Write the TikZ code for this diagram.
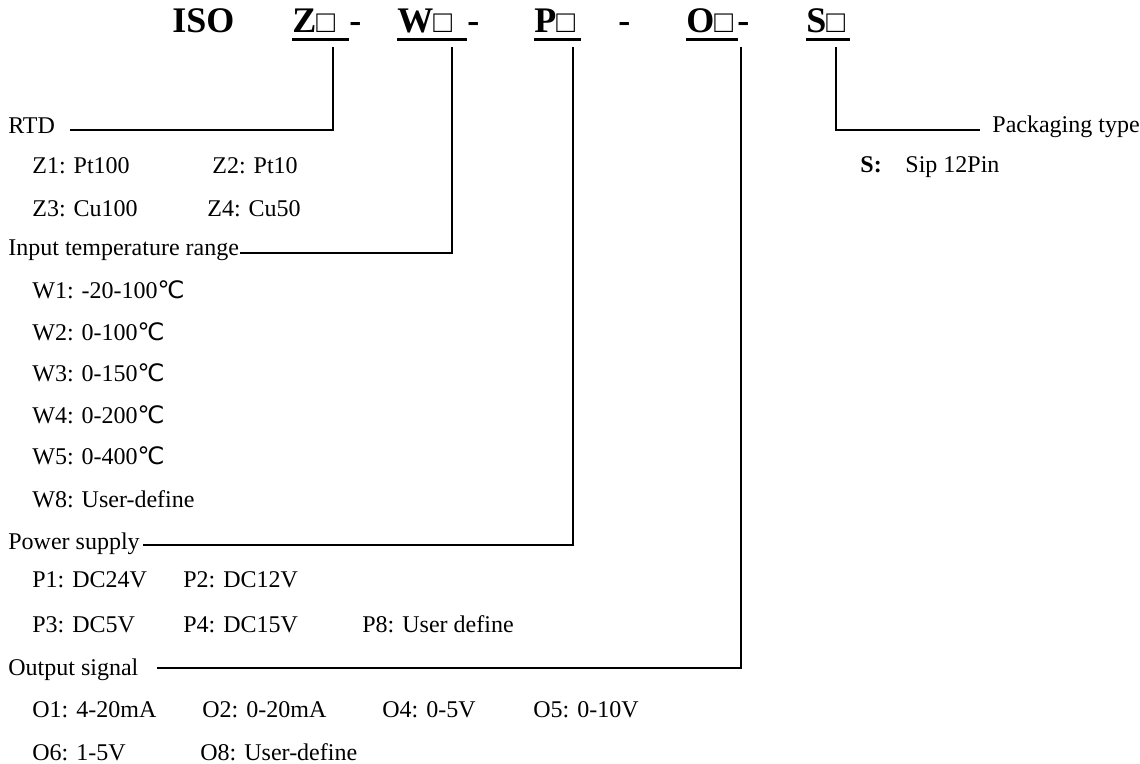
\documentclass[tikz,border=0pt]{standalone}
\usepackage{fontspec}
\setmainfont{Liberation Serif}
\newfontfamily\symfont{DejaVu Sans}
\usetikzlibrary{positioning,calc}
\newcommand{\sq}{{\mdseries\fontsize{15.5}{15.5}\selectfont □}}
\newcommand{\degc}{{\symfont ℃}}

\begin{document}
\begin{tikzpicture}[
  x=0.5pt, y=-0.5pt,
  hdr/.style={font=\bfseries\fontsize{18}{18}\selectfont, inner sep=0pt, anchor=base west},
  codebox/.style={hdr, text width=#1, align=left},
  head/.style={font=\fontsize{12}{14}\selectfont, inner sep=0pt, anchor=base west},
  item/.style={head},
  lead/.style={line width=1pt},
  uline/.style={line width=1.6pt}
]
\useasboundingbox (0,0) rectangle (1140,764);

% code line
\node[hdr] (iso) at (172,33) {ISO};
\node[codebox=28pt] (zcode) at (292,33) {Z\sq};
\node[hdr] (dash1) at (349,33) {-};
\node[codebox=34.5pt] (wcode) at (397,33) {W\sq};
\node[hdr] (dash2) at (467,33) {-};
\node[codebox=23pt] (pcode) at (534,33) {P\sq};
\node[hdr] (dash3) at (618,33) {-};
\node[codebox=25.5pt] (ocode) at (686,33) {O\sq};
\node[hdr] (dash4) at (737,33) {-};
\node[codebox=21.5pt] (scode) at (806,33) {S\sq};

\draw[uline] ([yshift=-3.25pt]zcode.base west) -- ([yshift=-3.25pt]zcode.base east);
\draw[uline] ([yshift=-3.25pt]wcode.base west) -- ([yshift=-3.25pt]wcode.base east);
\draw[uline] ([yshift=-3.25pt]pcode.base west) -- ([yshift=-3.25pt]pcode.base east);
\draw[uline] ([yshift=-3.25pt]ocode.base west) -- ([yshift=-3.25pt]ocode.base east);
\draw[uline] ([yshift=-3.25pt]scode.base west) -- ([yshift=-3.25pt]scode.base east);

% RTD
\node[head] (rtd) at (8,134) {RTD};
\node[item] (z1) at (32,174) {Z1: Pt100};
\node[item] (z2) at (212,174) {Z2: Pt10};
\node[item] (z3) at (32,217) {Z3: Cu100};
\node[item] (z4) at (207,217) {Z4: Cu50};

% temperature range
\node[head] (temp) at (8,256) {Input temperature range};
\node[item] (w1) at (32,299) {W1: -20-100\degc};
\node[item] (w2) at (32,341) {W2: 0-100\degc};
\node[item] (w3) at (32,382) {W3: 0-150\degc};
\node[item] (w4) at (32,423) {W4: 0-200\degc};
\node[item] (w5) at (32,465) {W5: 0-400\degc};
\node[item] (w8) at (32,507) {W8: User-define};

% power supply
\node[head] (power) at (8,549) {Power supply};
\node[item] (p1) at (32,587) {P1: DC24V};
\node[item] (p2) at (183,587) {P2: DC12V};
\node[item] (p3) at (32,632) {P3: DC5V};
\node[item] (p4) at (183,632) {P4: DC15V};
\node[item] (p8) at (362,632) {P8: User define};

% output signal
\node[head] (output) at (8,675) {Output signal};
\node[item] (o1) at (32,717) {O1: 4-20mA};
\node[item] (o2) at (202,717) {O2: 0-20mA};
\node[item] (o4) at (382,717) {O4: 0-5V};
\node[item] (o5) at (533,717) {O5: 0-10V};
\node[item] (o6) at (32,760) {O6: 1-5V};
\node[item] (o8) at (200,760) {O8: User-define};

% packaging
\node[head] (pack) at (992,133) {Packaging type};
\node[item, font=\bfseries\fontsize{12}{14}\selectfont] (stag) at (860,173) {S:};
\node[item] (spin) at (905,173) {Sip 12Pin};

% leaders
\coordinate (ztop) at (333,47);
\coordinate (wtop) at (452,47);
\coordinate (ptop) at (573,47);
\coordinate (otop) at (741,47);
\coordinate (stop) at (836,47);
\coordinate (zbend) at (333,130);
\coordinate (wbend) at (452,253);
\coordinate (pbend) at (573,545);
\coordinate (obend) at (741,668);
\coordinate (sbend) at (836,130);

\draw[lead] (ztop) -- (zbend) -- ([xshift=7.5pt]rtd.east |- zbend);
\draw[lead] (wtop) -- (wbend) -- ([xshift=0.5pt]temp.east |- wbend);
\draw[lead] (ptop) -- (pbend) -- ([xshift=1.5pt]power.east |- pbend);
\draw[lead] (otop) -- (obend) -- ([xshift=9pt]output.east |- obend);
\draw[lead] (stop) -- (sbend) -- ([xshift=-6pt]pack.west |- sbend);
\end{tikzpicture}
\end{document}
